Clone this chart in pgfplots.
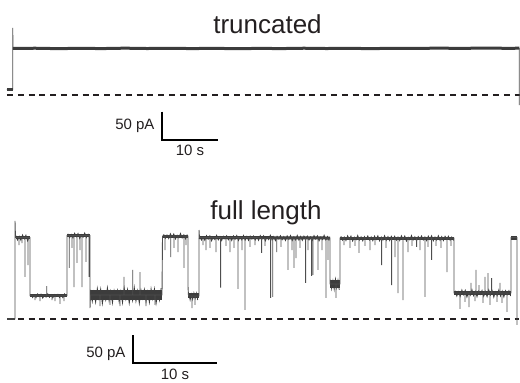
\documentclass[border=0pt]{standalone}
\usepackage{pgfplots}
\pgfplotsset{compat=1.18}
\usepackage{fontspec}
\setmainfont{Liberation Sans}
\definecolor{trace}{HTML}{3C3C3C}
\definecolor{spike}{HTML}{4E4E4E}
\definecolor{txt}{HTML}{231F20}
\begin{document}
\begin{tikzpicture}
\useasboundingbox (0,0) rectangle (520pt,383pt);
% ---------------- truncated ----------------
\begin{axis}[at={(0pt,193pt)}, anchor=south west, scale only axis,
  width=520pt, height=190pt, hide axis, clip=false,
  xmin=-2.268, xmax=90.59, ymin=-167.8, ymax=167.8]
\addplot[txt, line width=1.3pt, dash pattern=on 6pt off 4.8pt] coordinates {(-1.02,0) (90.59,0)};
\addplot[spike, line width=0.9pt] coordinates {(-1.02,9.7) (0,9.7) (0,118.4) (0.05,82.2) (90.46,82.2) (90.46,-17.7)};
\addplot[trace, line width=2.2pt] coordinates {(-1.02,9.7) (0,9.7)};
\addplot[trace, line width=3pt] coordinates {
(0.05,82.2) (4,82.6) (8,81.9) (12,82.4) (16,82.0) (20,82.7) (24,82.1) (28,82.5)
(32,82.0) (36,82.4) (40,81.8) (44,82.3) (48,82.0) (52,82.6) (56,82.1) (60,82.4)
(64,81.9) (68,82.5) (72,82.2) (76,82.8) (80,82.3) (84,82.9) (88,82.5) (90.46,82.6)};
% scale bar
\addplot[black, line width=1.8pt] coordinates {(26.61,-29.5) (26.61,-79.5) (36.61,-79.5)};
\node[anchor=base, txt, font=\fontsize{26}{30}\selectfont] at (axis cs:45.5,109.5) {truncated};
\node[anchor=base east, txt, font=\fontsize{15}{18}\selectfont] at (axis cs:25.95,-61.8) {50 pA};
\node[anchor=base, txt, font=\fontsize{15}{18}\selectfont] at (axis cs:31.66,-106) {10 s};
\end{axis}
% ---------------- full length ----------------
\begin{axis}[at={(0pt,0pt)}, anchor=south west, scale only axis,
  width=520pt, height=193pt, hide axis, clip=false,
  xmin=-1.786, xmax=60.12, ymin=-114.29, ymax=230.36]
\addplot[txt, line width=1.3pt, dash pattern=on 6pt off 4.8pt] coordinates {(-0.952,0) (60.0,0)};
% noisy levels (cores)
\addplot[trace, line width=2.5pt] coordinates {(-0.952,0) (0,0)};
\addplot[trace, line width=3pt] coordinates {(0.06,145.5) (1.786,145.5)};
\addplot[trace, line width=2.5pt] coordinates {(1.786,41.6) (6.19,41.6)};
\addplot[trace, line width=3pt] coordinates {(6.19,149.1) (8.929,149.1)};
\addplot[trace, line width=10pt] coordinates {(8.929,42.9) (17.5,42.9)};
\addplot[trace, line width=3pt] coordinates {(17.56,148.2) (20.595,148.2)};
\addplot[trace, line width=5pt] coordinates {(20.595,41.1) (21.905,41.1)};
\addplot[trace, line width=3pt] coordinates {(21.905,145.5) (29.2,145.2) (37.5,144.6)};
\addplot[trace, line width=8pt] coordinates {(37.5,62.5) (38.69,62.5)};
\addplot[trace, line width=3pt] coordinates {(38.69,144.6) (52.262,144.6)};
\addplot[trace, line width=4.5pt] coordinates {(52.262,46.4) (59.048,46.4)};
\addplot[trace, line width=4pt] coordinates {(59.048,145.5) (59.762,145.5)};
% noise of the levels
\addplot[trace, line width=0.8pt] table[row sep=\\] {t I\\
0.1 149\\ 0.3 141\\ 0.5 147.5\\ 0.7 140.5\\ 0.9 150\\ 1.1 143\\ 1.3 149.5\\ 1.5 139.5\\ 1.7 147\\};
\addplot[trace, line width=0.8pt] table[row sep=\\] {t I\\
1.9 44.1\\ 2.1 38.4\\ 2.3 43\\ 2.5 38.1\\ 2.7 44.8\\ 2.9 39.8\\ 3.1 44.4\\ 3.3 37.4\\ 3.5 42.6\\ 3.7 39.1\\ 3.9 45.1\\
4.1 38.8\\ 4.3 43.4\\ 4.5 37.7\\ 4.7 43.7\\ 4.9 40.2\\ 5.1 44.1\\ 5.3 38.4\\ 5.5 43\\ 5.7 38.1\\ 5.9 44.8\\ 6.1 39.8\\};
\addplot[trace, line width=0.8pt] table[row sep=\\] {t I\\
6.3 152.3\\ 6.5 145.1\\ 6.7 150.9\\ 6.9 144.6\\ 7.1 153.1\\ 7.3 146.9\\ 7.5 152.7\\ 7.7 143.7\\ 7.9 150.5\\ 8.1 145.9\\
8.3 153.6\\ 8.5 145.5\\ 8.7 151.3\\ 8.9 144.1\\};
\addplot[trace, line width=0.8pt] table[row sep=\\] {t I\\
9.0 52\\ 9.2 31.2\\ 9.4 48.1\\ 9.6 29.9\\ 9.8 54.6\\ 10.0 36.4\\ 10.2 53.3\\ 10.4 27.3\\ 10.6 46.8\\ 10.8 33.8\\
11.0 55.9\\ 11.2 32.5\\ 11.4 49.4\\ 11.6 28.6\\ 11.8 50.7\\ 12.0 37.7\\ 12.2 51.2\\ 12.4 30.4\\ 12.6 49\\ 12.8 29\\
13.0 55.3\\ 13.2 35.6\\ 13.4 52.4\\ 13.6 28.1\\ 13.8 47.5\\ 14.0 32.9\\ 14.2 56.4\\ 14.4 31.7\\ 14.6 50.1\\ 14.8 27.8\\
15.0 51.5\\ 15.2 36.9\\ 15.4 52.8\\ 15.6 30.9\\ 15.8 48.4\\ 16.0 29.5\\ 16.2 54.1\\ 16.4 36.1\\ 16.6 53.7\\ 16.8 27.9\\
17.0 47.1\\ 17.2 33.4\\ 17.4 55.2\\};
\addplot[trace, line width=0.8pt] table[row sep=\\] {t I\\
17.7 151.4\\ 17.9 144.2\\ 18.1 150\\ 18.3 143.7\\ 18.5 152.2\\ 18.7 146\\ 18.9 151.8\\ 19.1 142.8\\ 19.3 149.6\\ 19.5 145\\
19.7 152.7\\ 19.9 144.6\\ 20.1 150.4\\ 20.3 143.2\\ 20.5 150.9\\};
\addplot[trace, line width=0.8pt] table[row sep=\\] {t I\\
20.7 45.3\\ 20.85 34\\ 21.0 44.2\\ 21.15 35\\ 21.3 46.5\\ 21.45 37\\ 21.6 45.9\\ 21.75 33.9\\};
\addplot[trace, line width=0.8pt] table[row sep=\\] {t I\\
22.0 148.2\\ 22.2 141\\ 22.4 146.8\\ 22.6 140.5\\ 22.8 149\\ 23.0 142.8\\ 23.2 148.6\\ 23.4 139.6\\ 23.6 146.4\\ 23.8 141.8\\
24.0 149.5\\ 24.2 141.4\\ 24.4 147.2\\ 24.6 140\\ 24.8 147.7\\ 25.0 143.2\\ 25.2 148.7\\ 25.4 141.5\\ 25.6 147.1\\ 25.8 140.2\\
26.0 148.5\\ 26.2 142.3\\ 26.4 149.1\\ 26.6 140.1\\ 26.8 146.9\\ 27.0 141.2\\ 27.2 149.2\\ 27.4 140.9\\ 27.6 147.6\\ 27.8 140.4\\
28.0 148.1\\ 28.2 142.7\\ 28.4 148.2\\ 28.6 141\\ 28.8 146.8\\ 29.0 140.5\\ 29.2 149\\ 29.4 142.8\\ 29.6 148.6\\ 29.8 139.6\\
30.0 146.4\\ 30.2 141.8\\ 30.4 149.5\\ 30.6 141.4\\ 30.8 147.2\\ 31.0 140\\ 31.2 147.7\\ 31.4 143.2\\ 31.6 148.7\\ 31.8 141.5\\
32.0 147.1\\ 32.2 140.2\\ 32.4 148.5\\ 32.6 142.3\\ 32.8 149.1\\ 33.0 140.1\\ 33.2 146.9\\ 33.4 141.2\\ 33.6 149.2\\ 33.8 140.9\\
34.0 147.6\\ 34.2 140.4\\ 34.4 148.1\\ 34.6 142.7\\ 34.8 148.2\\ 35.0 141\\ 35.2 146.8\\ 35.4 140.5\\ 35.6 149\\ 35.8 142.8\\
36.0 148.6\\ 36.2 139.6\\ 36.4 146.4\\ 36.6 141.8\\ 36.8 149.5\\ 37.0 141.4\\ 37.2 147.2\\ 37.4 140\\};
\addplot[trace, line width=0.8pt] table[row sep=\\] {t I\\
37.55 70\\ 37.7 54\\ 37.85 68\\ 38.0 53\\ 38.15 71\\ 38.3 56\\ 38.45 69\\ 38.6 52\\};
\addplot[trace, line width=0.8pt] table[row sep=\\] {t I\\
38.8 147.8\\ 39.0 140.6\\ 39.2 146.4\\ 39.4 140.1\\ 39.6 148.6\\ 39.8 142.4\\ 40.0 148.2\\ 40.2 139.2\\ 40.4 146\\ 40.6 141.4\\
40.8 149.1\\ 41.0 141\\ 41.2 146.8\\ 41.4 139.6\\ 41.6 147.3\\ 41.8 142.8\\ 42.0 148.3\\ 42.2 141.1\\ 42.4 146.7\\ 42.6 139.8\\
42.8 148.1\\ 43.0 141.9\\ 43.2 148.7\\ 43.4 139.7\\ 43.6 146.5\\ 43.8 140.8\\ 44.0 148.8\\ 44.2 140.5\\ 44.4 147.2\\ 44.6 140\\
44.8 147.7\\ 45.0 142.3\\ 45.2 147.8\\ 45.4 140.6\\ 45.6 146.4\\ 45.8 140.1\\ 46.0 148.6\\ 46.2 142.4\\ 46.4 148.2\\ 46.6 139.2\\
46.8 146\\ 47.0 141.4\\ 47.2 149.1\\ 47.4 141\\ 47.6 146.8\\ 47.8 139.6\\ 48.0 147.3\\ 48.2 142.8\\ 48.4 148.3\\ 48.6 141.1\\
48.8 146.7\\ 49.0 139.8\\ 49.2 148.1\\ 49.4 141.9\\ 49.6 148.7\\ 49.8 139.7\\ 50.0 146.5\\ 50.2 140.8\\ 50.4 148.8\\ 50.6 140.5\\
50.8 147.2\\ 51.0 140\\ 51.2 147.7\\ 51.4 142.3\\ 51.6 147.8\\ 51.8 140.6\\ 52.0 146.4\\ 52.2 140.1\\};
\addplot[trace, line width=0.8pt] table[row sep=\\] {t I\\
52.4 50.6\\ 52.6 41\\ 52.8 48.8\\ 53.0 40.4\\ 53.2 51.8\\ 53.4 43.4\\ 53.6 51.2\\ 53.8 39.2\\ 54.0 48.2\\ 54.2 42.2\\
54.4 52.4\\ 54.6 41.6\\ 54.8 49.4\\ 55.0 39.8\\ 55.2 50\\ 55.4 44\\ 55.6 51.1\\ 55.8 40.5\\ 56.0 49.3\\ 56.2 39.9\\
56.4 52.2\\ 56.6 42.8\\ 56.8 50.7\\ 57.0 38.9\\ 57.2 48.7\\ 57.4 41.7\\ 57.6 52\\ 57.8 41.1\\ 58.0 49.9\\ 58.2 39.3\\
58.4 50.5\\ 58.6 43.5\\ 58.8 50.6\\ 59.0 41\\};
% transitions and brief events
\addplot[spike, line width=0.9pt] coordinates {
(-0.952,0) (0,0) (0,175) (0.060,145.5)
(0.476,145.5)(0.476,132.1)(0.476,145.5)
(0.833,145.5)(0.833,135.7)(0.833,145.5)
(1.190,145.5)(1.190,75)(1.190,145.5)
(1.548,145.5)(1.548,96.4)(1.548,145.5)
(1.786,145.5)(1.786,41.6)
(2.381,41.6)(2.381,33.9)(2.381,41.6)
(2.976,41.6)(2.976,32.1)(2.976,41.6)
(3.774,41.6)(3.774,58.9)(3.774,41.6)
(4.405,41.6)(4.405,33.9)(4.405,41.6)
(4.762,41.6)(4.762,32.1)(4.762,41.6)
(5.357,41.6)(5.357,26.8)(5.357,41.6)
(5.833,41.6)(5.833,32.1)(5.833,41.6)
(6.190,41.6)(6.190,149.1)
(6.464,149.1)(6.464,91.1)(6.464,149.1)
(6.786,149.1)(6.786,126.8)(6.786,149.1)
(7.024,149.1)(7.024,57.1)(7.024,149.1)
(7.381,149.1)(7.381,100)(7.381,149.1)
(7.738,149.1)(7.738,123.2)(7.738,149.1)
(7.976,149.1)(7.976,57.1)(7.976,149.1)
(8.452,149.1)(8.452,101.8)(8.452,149.1)
(8.810,149.1)(8.810,75)(8.810,149.1)
(8.929,149.1)(8.929,19.6)(8.988,42.9)
(10.119,42.9)(10.119,23.2)(10.119,42.9)
(11.310,42.9)(11.310,25)(11.310,42.9)
(12.5,42.9)(12.5,23.2)(12.5,42.9)
(12.976,42.9)(12.976,75)(12.976,42.9)
(14.012,42.9)(14.012,87.5)(14.012,42.9)
(14.881,42.9)(14.881,83.9)(14.881,42.9)
(15.595,42.9)(15.595,23.2)(15.595,42.9)
(16.667,42.9)(16.667,25)(16.667,42.9)
(17.5,42.9)(17.560,148.2)
(17.857,148.2)(17.857,123.2)(17.857,148.2)
(18.536,148.2)(18.536,110.7)(18.536,148.2)
(18.929,148.2)(18.929,126.8)(18.929,148.2)
(19.405,148.2)(19.405,119.6)(19.405,148.2)
(20.119,148.2)(20.119,91.1)(20.119,148.2)
(20.357,148.2)(20.357,132.1)(20.357,148.2)
(20.595,148.2)(20.595,58.9)(20.655,41.1)
(21.071,41.1)(21.071,19.6)(21.071,41.1)
(21.429,41.1)(21.429,25)(21.429,41.1)
(21.905,41.1)(21.905,158.9)(21.964,145.5)
(22.381,145.5)(22.381,132.1)(22.381,145.5)
(22.738,145.5)(22.738,123.2)(22.738,145.5)
(23.214,145.5)(23.214,126.8)(23.214,145.5)
(23.929,145.5)(23.929,119.6)(23.929,145.5)
(24.488,145.5)(24.488,55.9)(24.488,145.5)
(25.119,145.5)(25.119,130.4)(25.119,145.5)
(25.595,145.5)(25.595,119.6)(25.595,145.5)
(26.071,145.5)(26.071,126.8)(26.071,145.5)
(26.548,145.5)(26.548,53.6)(26.548,145.5)
(27.024,145.5)(27.024,123.2)(27.024,145.5)
(27.381,145.5)(27.381,16.1)(27.381,145.5)
(27.976,145.5)(27.976,128.6)(27.976,145.5)
(28.571,145.5)(28.571,132.1)(28.571,145.5)
(29.369,144.6)(29.369,117.9)(29.369,144.6)
(29.762,144.6)(29.762,130.4)(29.762,144.6)
(30.440,144.6)(30.440,37.5)(30.440,144.6)
(30.679,144.6)(30.679,39.3)(30.679,144.6)
(31.155,144.6)(31.155,119.6)(31.155,144.6)
(31.667,144.6)(31.667,128.6)(31.667,144.6)
(32.5,144.6)(32.5,87.5)(32.5,144.6)
(32.976,144.6)(32.976,123.2)(32.976,144.6)
(33.214,144.6)(33.214,91.1)(33.214,144.6)
(33.452,144.6)(33.452,108.9)(33.452,144.6)
(33.929,144.6)(33.929,126.8)(33.929,144.6)
(34.607,144.6)(34.607,64.3)(34.607,144.6)
(34.881,144.6)(34.881,123.2)(34.881,144.6)
(35.321,144.6)(35.321,76.8)(35.321,144.6)
(35.476,144.6)(35.476,78.6)(35.476,144.6)
(36.071,144.6)(36.071,87.5)(36.071,144.6)
(36.548,144.6)(36.548,123.2)(36.548,144.6)
(37.024,144.6)(37.024,37.5)(37.024,144.6)
(37.262,144.6)(37.262,105.4)(37.262,144.6)
(37.5,144.6)(37.5,62.5)
(38.214,62.5)(38.214,37.5)(38.214,62.5)
(38.690,62.5)(38.690,144.6)
(39.167,144.6)(39.167,132.1)(39.167,144.6)
(39.881,144.6)(39.881,126.8)(39.881,144.6)
(40.476,144.6)(40.476,130.4)(40.476,144.6)
(40.952,144.6)(40.952,117.9)(40.952,144.6)
(41.667,144.6)(41.667,130.4)(41.667,144.6)
(42.262,144.6)(42.262,123.2)(42.262,144.6)
(42.857,144.6)(42.857,132.1)(42.857,144.6)
(43.655,144.6)(43.655,96.4)(43.655,144.6)
(44.167,144.6)(44.167,126.8)(44.167,144.6)
(44.845,144.6)(44.845,60.7)(44.845,144.6)
(45.238,144.6)(45.238,110.7)(45.238,144.6)
(45.595,144.6)(45.595,46.4)(45.595,144.6)
(46.190,144.6)(46.190,33.9)(46.190,144.6)
(46.786,144.6)(46.786,119.6)(46.786,144.6)
(47.262,144.6)(47.262,130.4)(47.262,144.6)
(47.821,144.6)(47.821,128.6)(47.821,144.6)
(48.214,144.6)(48.214,123.2)(48.214,144.6)
(48.810,144.6)(48.810,39.3)(48.810,144.6)
(49.167,144.6)(49.167,128.6)(49.167,144.6)
(49.607,144.6)(49.607,105.4)(49.607,144.6)
(50.119,144.6)(50.119,130.4)(50.119,144.6)
(50.714,144.6)(50.714,126.8)(50.714,144.6)
(51.429,144.6)(51.429,83.9)(51.429,144.6)
(51.905,144.6)(51.905,130.4)(51.905,144.6)
(52.262,144.6)(52.262,46.4)
(52.976,46.4)(52.976,17.9)(52.976,46.4)
(53.571,46.4)(53.571,30.4)(53.571,46.4)
(54.048,46.4)(54.048,21.4)(54.048,46.4)
(54.286,46.4)(54.286,64.3)(54.286,46.4)
(54.762,46.4)(54.762,32.1)(54.762,46.4)
(54.881,46.4)(54.881,87.5)(54.881,46.4)
(55.238,46.4)(55.238,60.7)(55.238,46.4)
(55.714,46.4)(55.714,28.6)(55.714,46.4)
(55.952,46.4)(55.952,75)(55.952,46.4)
(56.310,46.4)(56.310,82.1)(56.310,46.4)
(56.548,46.4)(56.548,25)(56.548,46.4)
(56.750,46.4)(56.750,73.2)(56.750,46.4)
(57.381,46.4)(57.381,30.4)(57.381,46.4)
(57.738,46.4)(57.738,64.3)(57.738,46.4)
(57.976,46.4)(57.976,28.6)(57.976,46.4)
(58.571,46.4)(58.571,12.5)(58.571,46.4)
(59.048,46.4)(59.048,145.5)
(59.762,145.5)(59.762,-10.7)};
% scale bar
\addplot[black, line width=1.8pt] coordinates {(14.012,-28.6) (14.012,-78.6) (24.012,-78.6)};
\node[anchor=base, txt, font=\fontsize{26}{30}\selectfont] at (axis cs:29.88,176.8) {full length};
\node[anchor=base east, txt, font=\fontsize{15}{18}\selectfont] at (axis cs:13.57,-69.6) {50 pA};
\node[anchor=base, txt, font=\fontsize{15}{18}\selectfont] at (axis cs:19.05,-108.9) {10 s};
\end{axis}
\end{tikzpicture}
\end{document}
